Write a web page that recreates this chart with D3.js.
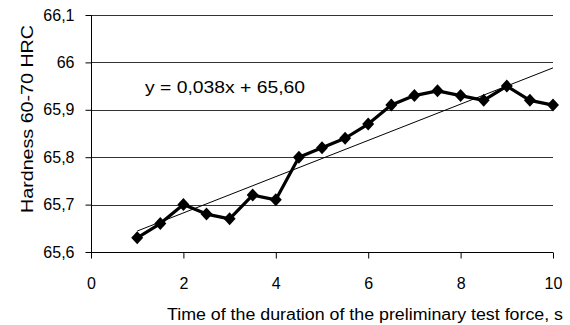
<!DOCTYPE html>
<html>
<head>
<meta charset="utf-8">
<script src="https://cdn.jsdelivr.net/npm/d3@7"></script>
<style>
  body { margin: 0; background: #fff; }
  svg text { font-family: "Liberation Sans", Arial, sans-serif; fill: #000; }
</style>
</head>
<body>
<div id="chart"></div>
<script>
// data
var times = [1, 1.5, 2, 2.5, 3, 3.5, 4, 4.5, 5, 5.5, 6, 6.5, 7, 7.5, 8, 8.5, 9, 9.5, 10];
var hardness = [65.63, 65.66, 65.70, 65.68, 65.67, 65.72, 65.71, 65.80, 65.82, 65.84,
                65.87, 65.91, 65.93, 65.94, 65.93, 65.92, 65.95, 65.92, 65.91];
var xTicks = [0, 2, 4, 6, 8, 10];
var yTicks = [65.6, 65.7, 65.8, 65.9, 66, 66.1];
var equationLabel = "y = 0,038x + 65,60";

var width = 570;
var height = 325;
var margin = {top: 15, right: 17, bottom: 73, left: 91};

var svg = d3.select("#chart")
    .append("svg")
        .attr("width", width)
        .attr("height", height);

var g = svg.append("g")
    .attr("transform", "translate(" + margin.left + "," + margin.top + ")");

var w = width - margin.left - margin.right;
var h = height - margin.top - margin.bottom;

var x = d3.scaleLinear().domain([0, 10]).range([0, w]);
var y = d3.scaleLinear().domain([65.6, 66.1]).range([h, 0]);

var fmt = function(d) { return String(+d.toFixed(1)).replace(".", ","); };

// gridlines
g.selectAll(".grid")
    .data(yTicks)
    .enter()
    .append("line")
    .attr("x1", 0)
    .attr("x2", w)
    .attr("y1", function(d) { return Math.round(y(d)) + 0.5; })
    .attr("y2", function(d) { return Math.round(y(d)) + 0.5; })
    .style("stroke", "#333")
    .style("stroke-width", 1);

// y axis
var yAxis = g.append("g")
    .attr("transform", "translate(0.5,0)")
    .call(d3.axisLeft(y).tickValues(yTicks).tickFormat(fmt).tickSize(6).tickPadding(11));
yAxis.select(".domain").attr("d", "M0," + Math.round(y(66.1)) + "V" + (Math.round(y(65.6)) + 0.5)).style("stroke", "#000");
yAxis.selectAll(".tick line").style("stroke", "#000");
yAxis.selectAll(".tick text").style("font-size", "16px").attr("fill", "#000");

// x axis
var xAxis = g.append("g")
    .attr("transform", "translate(0," + (Math.round(h) + 0.5) + ")")
    .call(d3.axisBottom(x).tickValues(xTicks).tickSize(6).tickPadding(19));
xAxis.select(".domain").attr("d", "M0,0H" + w).style("stroke", "#000");
xAxis.selectAll(".tick line").style("stroke", "#000");
xAxis.selectAll(".tick text").style("font-size", "16px").attr("fill", "#000");

// linear trend from least squares
var mx = d3.mean(times), my = d3.mean(hardness);
var sxy = d3.sum(times, function(t, i) { return (t - mx) * (hardness[i] - my); });
var sxx = d3.sum(times, function(t) { return (t - mx) * (t - mx); });
var slope = sxy / sxx;
var intercept = my - slope * mx;
var tx = [times[0], times[times.length - 1]];

g.append("line")
    .attr("x1", x(tx[0]))
    .attr("y1", y(intercept + slope * tx[0]))
    .attr("x2", x(tx[1]))
    .attr("y2", y(intercept + slope * tx[1]))
    .style("stroke", "#000")
    .style("stroke-width", 1);

// data line
var pts = times.map(function(t, i) { return [t, hardness[i]]; });
g.append("path")
    .datum(pts)
    .attr("d", d3.line().x(function(d) { return x(d[0]); }).y(function(d) { return y(d[1]); }))
    .style("fill", "none")
    .style("stroke", "#000")
    .style("stroke-width", 3.2)
    .style("stroke-linejoin", "round");

g.selectAll(".marker")
    .data(pts)
    .enter()
    .append("path")
    .attr("d", "M0,-6.5L6,0L0,6.5L-6,0Z")
    .attr("transform", function(d) { return "translate(" + x(d[0]) + "," + y(d[1]) + ")"; })
    .style("fill", "#000");

// equation
svg.append("text")
    .attr("x", 145)
    .attr("y", 93)
    .style("font-size", "16px")
    .attr("textLength", 160)
    .attr("lengthAdjust", "spacingAndGlyphs")
    .text(equationLabel);

// axis titles
svg.append("text")
    .attr("transform", "translate(33,119)rotate(-90)")
    .attr("text-anchor", "middle")
    .style("font-size", "17px")
    .attr("textLength", 188)
    .attr("lengthAdjust", "spacingAndGlyphs")
    .text("Hardness 60-70 HRC");

svg.append("text")
    .attr("x", 365)
    .attr("y", 320)
    .attr("text-anchor", "middle")
    .style("font-size", "16px")
    .attr("textLength", 396)
    .attr("lengthAdjust", "spacingAndGlyphs")
    .text("Time of the duration of the preliminary test force, s");
</script>
</body>
</html>
